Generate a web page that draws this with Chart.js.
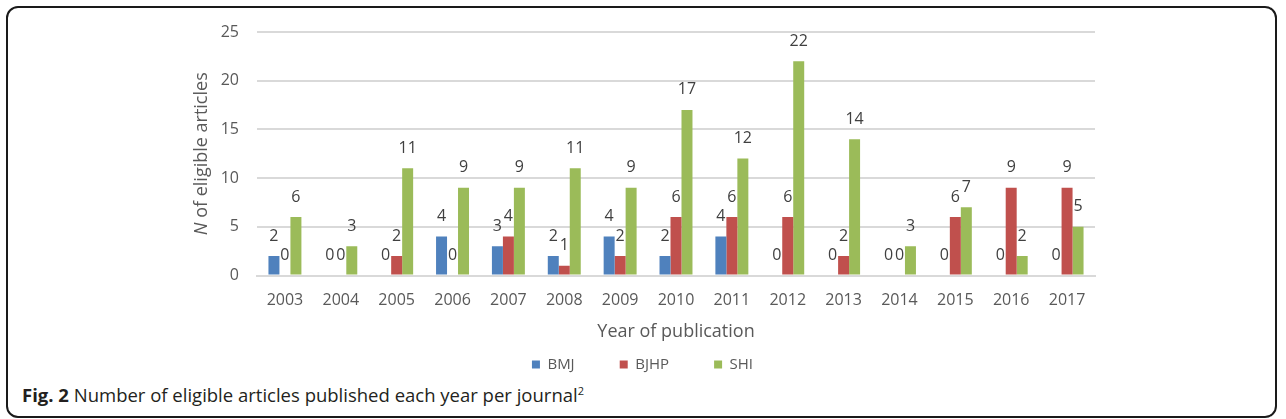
<!DOCTYPE html>
<html>
<head>
<meta charset="utf-8">
<script src="https://cdn.jsdelivr.net/npm/chart.js@4.4.1/dist/chart.umd.min.js"></script>
<style>
  body { margin: 0; background: #fff; }
  #wrap { position: relative; width: 1286px; height: 419px; overflow: hidden; }
  #frame {
    position: absolute; left: 6px; top: 6px; width: 1267px; height: 408px;
    border: 2px solid #1a1a1a; border-radius: 12px; box-sizing: content-box;
  }
  #chart { position: absolute; left: 0; top: 0; }
  #caption {
    position: absolute; left: 22px; top: 382px;
    font: 18.5px "Open Sans", sans-serif; color: #231f20; white-space: nowrap;
  }
  #caption b { font-weight: 700; }
  #caption sup { font-size: 11px; }
</style>
</head>
<body>
<div id="wrap">
  <div id="frame"></div>
  <canvas id="chart" width="1286" height="382"></canvas>
  <div id="caption"><b>Fig. 2</b> Number of eligible articles published each year per journal<sup>2</sup></div>
</div>
<script>
const years = ['2003', '2004', '2005', '2006', '2007', '2008', '2009', '2010',
  '2011', '2012', '2013', '2014', '2015', '2016', '2017'];
const bmj  = [2, 0, 0, 4, 3, 2, 4, 2, 4, 0, 0, 0, 0, 0, 0];
const bjhp = [0, 0, 2, 0, 4, 1, 2, 6, 6, 6, 2, 0, 6, 9, 9];
const shi  = [6, 3, 11, 9, 9, 11, 9, 17, 12, 22, 14, 3, 7, 2, 5];

const font = '"Open Sans", sans-serif';

// labels over each bar, excel style
const barLabels = {
  id: 'barLabels',
  afterDatasetsDraw(chart) {
    const ctx = chart.ctx;
    ctx.save();
    ctx.font = '16px ' + font;
    ctx.fillStyle = '#404040';
    ctx.textAlign = 'center';
    ctx.textBaseline = 'middle';
    chart.data.datasets.forEach((ds, i) => {
      chart.getDatasetMeta(i).data.forEach((bar, j) => {
        ctx.fillText(String(ds.data[j]), bar.x, bar.y - 20);
      });
    });
    ctx.restore();
  }
};

// y title with italic N
const yTitle = {
  id: 'yTitle',
  afterDraw(chart) {
    const ctx = chart.ctx;
    const area = chart.chartArea;
    const cy = (area.top + area.bottom) / 2;
    ctx.save();
    ctx.translate(202, cy);
    ctx.rotate(-Math.PI / 2);
    ctx.fillStyle = '#595959';
    ctx.textBaseline = 'middle';
    const a = 'N', b = ' of eligible articles';
    ctx.font = 'italic 18px ' + font;
    const wa = ctx.measureText(a).width;
    ctx.font = '18px ' + font;
    const wb = ctx.measureText(b).width;
    let x = -(wa + wb) / 2;
    ctx.font = 'italic 18px ' + font;
    ctx.textAlign = 'left';
    ctx.fillText(a, x, 0);
    ctx.font = '18px ' + font;
    ctx.fillText(b, x + wa, 0);
    ctx.restore();
  }
};

new Chart(document.getElementById('chart'), {
  type: 'bar',
  data: {
    labels: years,
    datasets: [
      { label: 'BMJ', data: bmj, backgroundColor: '#4F81BD' },
      { label: 'BJHP', data: bjhp, backgroundColor: '#C0504D' },
      { label: 'SHI', data: shi, backgroundColor: '#9BBB59' }
    ]
  },
  options: {
    responsive: false,
    animation: false,
    layout: { padding: { left: 190, right: 191, top: 32, bottom: 0 } },
    datasets: { bar: { barPercentage: 1, categoryPercentage: 0.59 } },
    plugins: {
      tooltip: { enabled: false },
      legend: {
        position: 'bottom',
        labels: {
          boxWidth: 8, boxHeight: 8, padding: 10,
          color: '#595959', font: { family: font, size: 15 },
          // wider gaps between items without making the legend taller
          generateLabels(chart) {
            const items = Chart.defaults.plugins.legend.labels.generateLabels(chart);
            items.forEach((it, i) => {
              if (i < items.length - 1) it.text += '         ';
            });
            return items;
          }
        }
      }
    },
    scales: {
      x: {
        afterFit(scale) { scale.height = 71.5; },
        grid: { display: false },
        border: { color: '#D9D9D9', width: 2 },
        ticks: { color: '#595959', padding: 7, font: { family: font, size: 16 } },
        title: {
          display: true, text: 'Year of publication', color: '#595959',
          font: { family: font, size: 18 }, padding: { top: 0, bottom: 4 }
        }
      },
      y: {
        min: 0, max: 25,
        afterFit(scale) { scale.width = 67; },
        grid: { color: '#D9D9D9', lineWidth: 2, drawTicks: false },
        border: { display: false },
        ticks: { stepSize: 5, color: '#595959', padding: 18, font: { family: font, size: 16 } }
      }
    }
  },
  plugins: [barLabels, yTitle]
});
</script>
</body>
</html>
